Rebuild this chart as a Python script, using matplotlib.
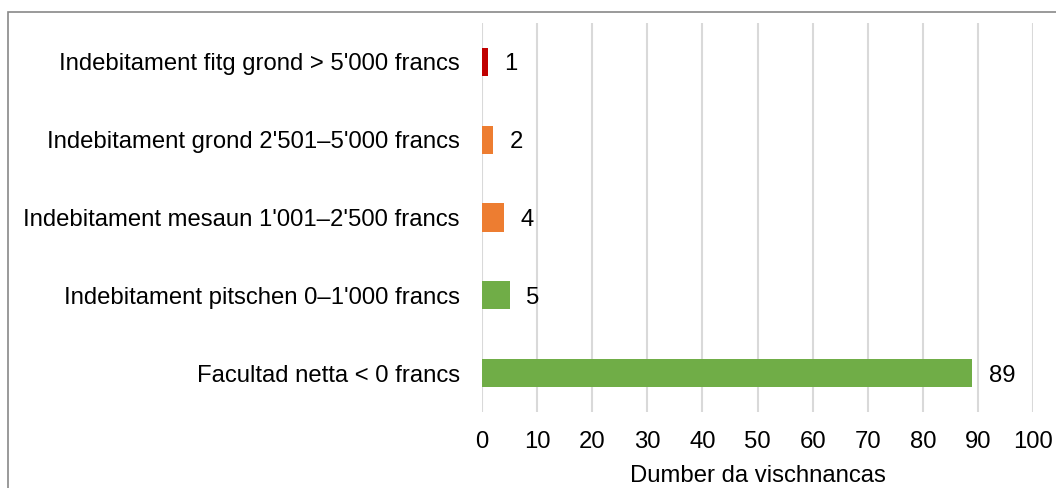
import matplotlib.pyplot as plt
import matplotlib.patches as patches

kategorias = [
    "Facultad netta < 0 francs",
    "Indebitament pitschen 0\u20131'000 francs",
    "Indebitament mesaun 1'001\u20132'500 francs",
    "Indebitament grond 2'501\u20135'000 francs",
    "Indebitament fitg grond > 5'000 francs",
]
valurs = [89, 5, 4, 2, 1]
colurs = ["#70AD47", "#70AD47", "#ED7D31", "#ED7D31", "#C00000"]

plt.rcParams['font.family'] = ['Liberation Sans', 'DejaVu Sans']
fs = 17.2

fig = plt.figure(figsize=(10.56, 4.88), dpi=100)
ax = fig.add_axes([482 / 1056, 1 - 412 / 488, (1033 - 482) / 1056, (412 - 23) / 488])

pos = list(range(len(kategorias)))
ax.barh(pos, valurs, height=0.36, color=colurs, zorder=3)
for p, v in zip(pos, valurs):
    ax.text(v + 3.0, p, str(v), va='center_baseline', ha='left', fontsize=fs, color='#000000')

ax.set_xlim(0, 100)
ax.set_ylim(-0.5, 4.5)
ax.set_xticks(range(0, 101, 10))
ax.set_yticks(pos)
ax.set_yticklabels(kategorias)
ax.tick_params(axis='both', length=0, labelsize=fs, colors='#000000')
ax.tick_params(axis='y', pad=16)
ax.tick_params(axis='x', pad=14)
ax.grid(axis='x', color='#D9D9D9', linewidth=1.5, zorder=0)
for s in ax.spines.values():
    s.set_visible(False)
ax.set_xlabel("Dumber da vischnancas", fontsize=fs, labelpad=8)

fig.patches.append(patches.Rectangle((8 / 1056, -0.1), 1.2, 1 - 12 / 488 + 0.1,
                                     transform=fig.transFigure, fill=False,
                                     edgecolor='#898989', linewidth=1.2))

fig.savefig("out.png", dpi=100)
